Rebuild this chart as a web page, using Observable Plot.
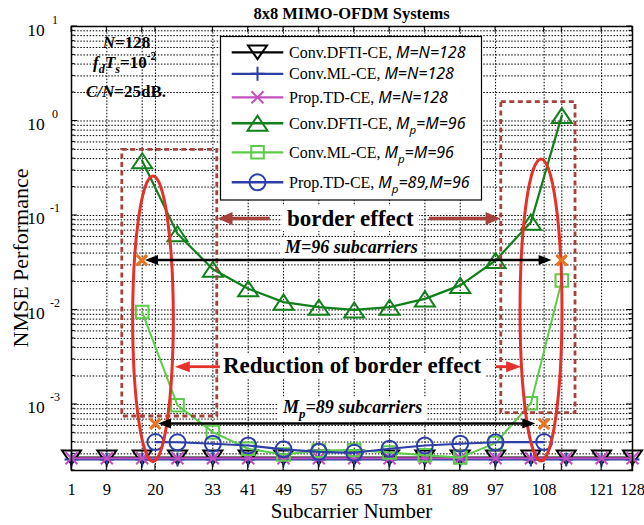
<!DOCTYPE html>
<html><head><meta charset="utf-8">
<script src="https://cdn.jsdelivr.net/npm/d3@7"></script>
<script src="https://cdn.jsdelivr.net/npm/@observablehq/plot@0.6"></script>
<style>body{margin:0;background:#fff}#chart svg{display:block}</style>
</head><body><div id="chart"></div>
<script>
// ---------- data ----------
const xTickLabels = [1, 9, 20, 33, 41, 49, 57, 65, 73, 81, 89, 97, 108, 121, 128];
const xGridTicks = [1, 9, 17, 20, 33, 41, 49, 57, 65, 73, 81, 89, 97, 108, 112, 121, 128];
const yDecades = [1e-3, 1e-2, 1e-1, 1, 10];
const yDecadeLabels = ["-3", "-2", "-1", "0", "1"];

const scFull = [1, 9, 17, 25, 33, 41, 49, 57, 65, 73, 81, 89, 97, 105, 113, 121, 128];
const dftiFull = [2.75e-4, 2.75e-4, 2.75e-4, 2.75e-4, 2.75e-4, 2.75e-4, 2.75e-4, 2.75e-4, 2.75e-4, 2.75e-4, 2.75e-4, 2.75e-4, 2.75e-4, 2.75e-4, 2.75e-4, 2.75e-4, 2.75e-4];
const mlFull = [2.62e-4, 2.62e-4, 2.62e-4, 2.62e-4, 2.62e-4, 2.62e-4, 2.62e-4, 2.62e-4, 2.62e-4, 2.62e-4, 2.62e-4, 2.62e-4, 2.62e-4, 2.62e-4, 2.62e-4, 2.62e-4, 2.62e-4];
const tdFull = [2.7e-4, 2.7e-4, 2.7e-4, 2.7e-4, 2.7e-4, 2.7e-4, 2.7e-4, 2.7e-4, 2.7e-4, 2.7e-4, 2.7e-4, 2.7e-4, 2.7e-4, 2.7e-4, 2.7e-4, 2.7e-4, 2.7e-4];

const scM96 = [17, 25, 33, 41, 49, 57, 65, 73, 81, 89, 97, 105, 112];
const dftiM96 = [0.38, 0.064, 0.027, 0.0168, 0.0121, 0.0107, 0.0100, 0.0107, 0.0131, 0.0182, 0.0334, 0.085, 1.14];
const mlM96 = [0.0095, 9.8e-4, 5.1e-4, 3.4e-4, 2.95e-4, 3.25e-4, 3.3e-4, 3.1e-4, 2.9e-4, 2.75e-4, 3.9e-4, 1.03e-3, 0.0205];

const scMp89 = [20, 25, 33, 41, 49, 57, 65, 73, 81, 89, 97, 108];
const tdMp89 = [4.0e-4, 3.98e-4, 3.84e-4, 3.68e-4, 3.35e-4, 3.15e-4, 3.08e-4, 3.4e-4, 3.68e-4, 3.84e-4, 3.98e-4, 4.0e-4];

// band-edge markers (orange x)
const edgeX = [17, 112, 20, 108];
const edgeY = [0.0334, 0.0334, 6.2e-4, 6.2e-4];

// ---------- symbols (MATLAB-like, open) ----------
const sym = f => ({draw(c, size) { f(c, Math.sqrt(size / Math.PI)); }});
const triDown = sym((c, r) => { c.moveTo(-r, -0.72 * r); c.lineTo(r, -0.72 * r); c.lineTo(0, 0.72 * r); c.closePath(); });
const triUp = sym((c, r) => { c.moveTo(0, -0.75 * r); c.lineTo(r, 0.75 * r); c.lineTo(-r, 0.75 * r); c.closePath(); });
const plusS = sym((c, r) => { c.moveTo(-r, 0); c.lineTo(r, 0); c.moveTo(0, -r); c.lineTo(0, r); });
const timesS = sym((c, r) => { c.moveTo(-r, -r); c.lineTo(r, r); c.moveTo(-r, r); c.lineTo(r, -r); });
const squareS = sym((c, r) => { c.rect(-r, -r, 2 * r, 2 * r); });
const circleS = sym((c, r) => { c.moveTo(r, 0); c.arc(0, 0, r, 0, 2 * Math.PI); });

const rows = (xs, ys) => xs.map((x, i) => ({x, y: ys[i]}));
const series = [
  {rows: rows(scFull, dftiFull), color: "#000000", symbol: triDown, r: 9.5, lw: 2, text: "Conv.DFTI-CE,", it: [["M=N=128"]]},
  {rows: rows(scFull, mlFull), color: "#2c3fa5", symbol: plusS, r: 7, lw: 2, text: "Conv.ML-CE,", it: [["M=N=128"]]},
  {rows: rows(scFull, tdFull), color: "#c050be", symbol: timesS, r: 6, lw: 2, text: "Prop.TD-CE,", it: [["M=N=128"]]},
  {rows: rows(scM96, dftiM96), color: "#11801a", symbol: triUp, r: 10, lw: 2.2, text: "Conv.DFTI-CE,", it: [["M"], ["p", "sub"], ["=M=96"]]},
  {rows: rows(scM96, mlM96), color: "#5ccb4a", symbol: squareS, r: 6.3, lw: 2, text: "Conv.ML-CE,", it: [["M"], ["p", "sub"], ["=M=96"]]},
  {rows: rows(scMp89, tdMp89), color: "#2c3fa8", symbol: circleS, r: 8, lw: 2.2, text: "Prop.TD-CE,", it: [["M"], ["p", "sub"], ["=89,M=96"]]}
];

const yAll = d3.scaleLog().domain([2e-4, 10]).ticks();
const serif = "'Liberation Serif','Times New Roman',serif";

const marks = [
  Plot.ruleY(yAll, {stroke: "#000", strokeWidth: 1, strokeDasharray: "1.5,1.6"}),
  Plot.ruleX(xGridTicks, {stroke: "#000", strokeWidth: 1, strokeDasharray: "1.5,1.6"})
];
for (const s of series) {
  marks.push(Plot.line(s.rows, {x: "x", y: "y", stroke: s.color, strokeWidth: s.lw}));
  marks.push(Plot.dot(s.rows, {x: "x", y: "y", symbol: s.symbol, r: s.r, stroke: s.color, strokeWidth: 2, fill: "none"}));
}
marks.push(Plot.dot(rows(edgeX, edgeY), {x: "x", y: "y", symbol: timesS, r: 5, stroke: "#e8751f", strokeWidth: 2.6}));
marks.push(Plot.frame({stroke: "#000", strokeWidth: 1.5}));

const plot = Plot.plot({
  width: 644, height: 525,
  marginLeft: 71, marginRight: 12, marginTop: 26, marginBottom: 55,
  style: {fontFamily: serif, fontSize: "16.5px", background: "#fff", color: "#000"},
  x: {domain: [1, 128], ticks: xTickLabels, tickSize: 0, tickPadding: 12.5, label: null, tickFormat: d => String(d)},
  y: {type: "log", domain: [2e-4, 10], axis: null},
  marks
});
document.getElementById("chart").append(plot);

// ---------- annotations via the plot's own scales ----------
const svg = d3.select(plot);
const sx = plot.scale("x"), sy = plot.scale("y");
const X = v => sx.apply(v), Y = v => sy.apply(v);
const xL = X(1), xR = X(128), yT = Y(10), yB = Y(2e-4);
const g = svg.append("g");

// inner ticks
const tk = g.append("g").attr("stroke", "#000").attr("stroke-width", 1);
for (const v of yAll) {
  const y = Y(v), major = Math.abs(Math.log10(v) - Math.round(Math.log10(v))) < 1e-9, len = major ? 6 : 3.5;
  tk.append("line").attr("x1", xL).attr("x2", xL + len).attr("y1", y).attr("y2", y);
  tk.append("line").attr("x1", xR).attr("x2", xR - len).attr("y1", y).attr("y2", y);
}
for (const v of xGridTicks) {
  const x = X(v);
  tk.append("line").attr("x1", x).attr("x2", x).attr("y1", yB).attr("y2", yB - 6);
  tk.append("line").attr("x1", x).attr("x2", x).attr("y1", yT).attr("y2", yT + 6);
}

// y tick labels 10^n : base and exponent as tspans with absolute positions
yDecades.forEach((v, i) => {
  const y = Y(v);
  const t = g.append("text").attr("font-family", serif).attr("fill", "#000");
  t.append("tspan").attr("x", xL - 35).attr("y", y + 9.5).attr("font-size", 17.5).text("10");
  t.append("tspan").attr("x", xL - 16).attr("y", y - 2.5).attr("font-size", 12).text(yDecadeLabels[i]);
});

// rich text helper
function rich(parent, x, y, parts, base) {
  const t = parent.append("text").attr("x", x).attr("y", y)
    .attr("font-family", base.family).attr("font-size", base.size)
    .attr("font-weight", base.weight || "normal").attr("text-anchor", base.anchor || "start");
  let shift = 0;
  parts.forEach((p) => {
    const [txt, mode, opt] = p;
    const ts = t.append("tspan").text(txt);
    let target = 0;
    if (mode === "sub") { ts.attr("font-size", base.size * 0.72); target = base.size * 0.3; }
    else if (mode === "sup") { ts.attr("font-size", base.size * 0.68); target = -base.size * 0.45; }
    if (target - shift !== 0) ts.attr("dy", target - shift);
    shift = target;
    if (opt && opt.italic) ts.attr("font-style", "italic");
    if (opt && opt.family) ts.attr("font-family", opt.family);
    if (opt && opt.dx) ts.attr("dx", opt.dx);
  });
  return t;
}

// title and axis labels
g.append("text").attr("x", (xL + xR) / 2).attr("y", 19).attr("text-anchor", "middle")
  .attr("font-family", serif).attr("font-weight", "bold").attr("font-size", 16.5).text("8x8 MIMO-OFDM Systems");
g.append("text").attr("x", (xL + xR) / 2).attr("y", 518).attr("text-anchor", "middle")
  .attr("font-family", serif).attr("font-size", 21).text("Subcarrier Number");
g.append("text").attr("transform", `translate(28,${(yT + yB) / 2 + 10}) rotate(-90)`).attr("text-anchor", "middle")
  .attr("font-family", serif).attr("font-size", 22).text("NMSE Performance");

// top-left parameters
const bi = {family: serif, size: 17, weight: "bold"};
rich(g, X(8.2), Y(5.8), [["N", null, {italic: true}], ["=128"]], bi);
rich(g, X(6.0), Y(3.6), [["f", null, {italic: true}], ["d", "sub", {italic: true}], ["T", null, {italic: true}], ["s", "sub", {italic: true}], ["=10"], ["-2", "sup"]], bi);
rich(g, X(4.4), Y(1.79), [["C/N", null, {italic: true}], ["=25dB."]], bi);

// dashed border-region rectangles
const brown = "#a5423c", red = "#e5312a";
function dashRect(xa, xb, ya, yb) {
  g.append("rect").attr("x", X(xa)).attr("y", Y(ya)).attr("width", X(xb) - X(xa)).attr("height", Y(yb) - Y(ya))
    .attr("fill", "none").attr("stroke", brown).attr("stroke-width", 2.8).attr("stroke-dasharray", "5,3.5");
}
dashRect(12.5, 34.0, 0.495, 7.46e-4);
dashRect(98.3, 115.1, 1.58, 8.1e-4);

// red ellipses (centre in data coords, half-width in subcarriers, half-height in decades)
function ell(cx, rxu, cl, rdec) {
  const px = X(cx), py = Y(Math.pow(10, cl));
  g.append("ellipse").attr("cx", px).attr("cy", py)
    .attr("rx", X(cx + rxu) - px).attr("ry", Y(Math.pow(10, cl - rdec)) - py)
    .attr("fill", "none").attr("stroke", red).attr("stroke-width", 3);
}
ell(19.56, 4.6, -2.099, 1.512);
ell(107.4, 4.75, -2.005, 1.598);

// arrows
function arrow(xa, ya, xb, yb, color, w, hl, hw) {
  const x1 = X(xa), y1 = Y(ya), x2 = X(xb), y2 = Y(yb);
  const dx = x2 - x1, dy = y2 - y1, L = Math.hypot(dx, dy), ux = dx / L, uy = dy / L;
  const bx = x2 - ux * hl, by = y2 - uy * hl;
  g.append("line").attr("x1", x1).attr("y1", y1).attr("x2", bx + ux).attr("y2", by + uy)
    .attr("stroke", color).attr("stroke-width", w);
  g.append("path").attr("d", `M${x2},${y2}L${bx - uy * hw},${by + ux * hw}L${bx + uy * hw},${by - ux * hw}Z`).attr("fill", color);
}
// text with white box
function boxed(x, y, parts, base, padX, padY) {
  const t = rich(g, x, y, parts, base);
  const bb = t.node().getBBox();
  g.insert("rect", () => t.node()).attr("x", bb.x - padX).attr("y", bb.y - padY)
    .attr("width", bb.width + 2 * padX).attr("height", bb.height + 2 * padY).attr("fill", "#fff");
  return t;
}
const bold = {family: serif, size: 23, weight: "bold"};
const bit = {family: serif, size: 18, weight: "bold"};

boxed(X(49.9), Y(0.0765), [["border effect"]], bold, 5, 0);
arrow(46.0, 0.092, 34.17, 0.092, brown, 3.5, 15, 6.5);
arrow(82.0, 0.092, 98.24, 0.092, brown, 3.5, 15, 6.5);

boxed(X(49.45), Y(0.0396), [["M=96 subcarriers", null, {italic: true}]], bit, 4, 0);
arrow(64, 0.0334, 17.75, 0.0334, "#000", 2.5, 13, 5);
arrow(64, 0.0334, 109.8, 0.0334, "#000", 2.5, 13, 5);

boxed(X(35.4), Y(2.11e-3), [["Reduction of border effect"]], bold, 4, 0);
arrow(34.7, 2.48e-3, 24.5, 2.48e-3, red, 2.8, 15, 5.5);
arrow(97.2, 2.48e-3, 102.9, 2.48e-3, red, 2.8, 15, 5.5);

boxed(X(49.0), Y(8.1e-4), [["M", null, {italic: true}], ["p", "sub", {italic: true}], ["=89 subcarriers", null, {italic: true}]], bit, 4, 0);
arrow(64, 6.2e-4, 20.7, 6.2e-4, "#000", 2.5, 13, 5);
arrow(64, 6.2e-4, 106.1, 6.2e-4, "#000", 2.5, 13, 5);

// redraw orange markers on top of arrows
for (let i = 0; i < edgeX.length; i++) {
  const x = X(edgeX[i]), y = Y(edgeY[i]), r = 5;
  g.append("path").attr("d", `M${x - r},${y - r}L${x + r},${y + r}M${x - r},${y + r}L${x + r},${y - r}`)
    .attr("stroke", "#e8751f").attr("stroke-width", 2.6);
}

// legend
const lg = g.append("g");
lg.append("rect").attr("x", 220.5).attr("y", 36.5).attr("width", 261).attr("height", 163.5)
  .attr("fill", "#fff").attr("stroke", "#000").attr("stroke-width", 1.2);
const rowY = [52.3, 73.8, 97.3, 123.3, 152.3, 182.3];
const sans = "'Noto Sans','Open Sans',sans-serif";
series.forEach((s, i) => {
  const y = rowY[i];
  lg.append("line").attr("x1", 231.7).attr("x2", 283.3).attr("y1", y).attr("y2", y)
    .attr("stroke", s.color).attr("stroke-width", s.lw + 0.3);
  const p = d3.path(); s.symbol.draw(p, s.r * s.r * Math.PI);
  lg.append("path").attr("transform", `translate(257.5,${y})`).attr("d", p.toString())
    .attr("fill", "none").attr("stroke", s.color).attr("stroke-width", 2);
  const parts = [[s.text]].concat(s.it.map((q, k) => [q[0], q[1] || null, {italic: true, family: sans, dx: k === 0 ? 4 : 0}]));
  rich(lg, 289, y + 5.5, parts, {family: serif, size: 16});
});
</script>
</body></html>
